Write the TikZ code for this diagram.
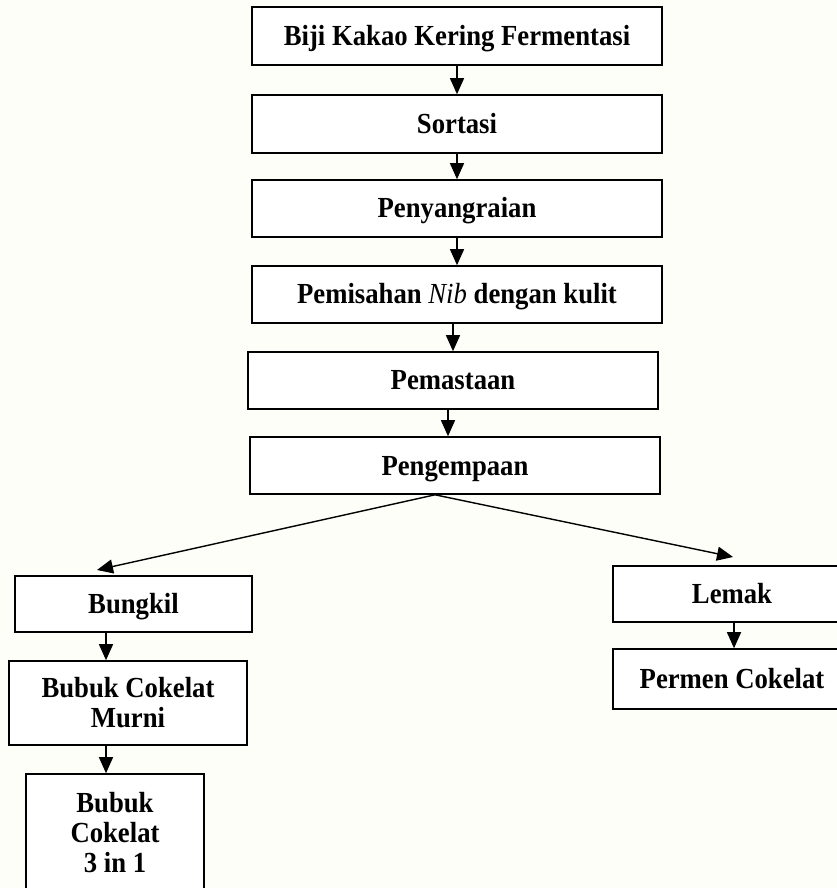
\documentclass[tikz,border=0pt]{standalone}
\usepackage{fontspec}
\setmainfont{Liberation Serif}
\usetikzlibrary{arrows.meta}
\definecolor{paper}{RGB}{254,254,248}
% labels are set slightly taller than wide, a little below centre
\newcommand\steptext[1]{\raisebox{-3.5pt}[\height][\depth]{\scalebox{1}[1.09]{\begin{tabular}{@{}c@{}}#1\end{tabular}}}}
\begin{document}
\begin{tikzpicture}[x=1pt,y=-1pt,
  stepbox/.style={draw=black,line width=1.6pt,fill=white,inner sep=0pt,
    align=center,font=\bfseries\fontsize{26.7}{27.5}\selectfont},
  flow/.style={line width=1.4pt,-{Triangle[width=14pt,length=16pt]}}]
  % page
  \fill[paper] (0,0) rectangle (837,888);
  \useasboundingbox (0,0) rectangle (837,888);

  % main chain
  \node[stepbox,minimum width=410pt,minimum height=58pt] (b1) at (457,36) {\steptext{Biji Kakao Kering Fermentasi}};
  \node[stepbox,minimum width=410pt,minimum height=58pt] (b2) at (457,124) {\steptext{Sortasi}};
  \node[stepbox,minimum width=410pt,minimum height=57pt] (b3) at (457,208.5) {\steptext{Penyangraian}};
  \node[stepbox,minimum width=410pt,minimum height=57pt] (b4) at (457,294.5) {\steptext{Pemisahan \textmd{\textit{Nib}} dengan kulit}};
  \node[stepbox,minimum width=410pt,minimum height=57pt] (b5) at (453,380.5) {\steptext{Pemastaan}};
  \node[stepbox,minimum width=410pt,minimum height=57pt] (b6) at (455,465.5) {\steptext{Pengempaan}};

  % left branch
  \node[stepbox,minimum width=237pt,minimum height=56pt] (bungkil) at (133.5,604) {\steptext{Bungkil}};
  \node[stepbox,minimum width=238pt,minimum height=84pt] (murni) at (128,703) {\steptext{Bubuk Cokelat\\Murni}};
  \node[stepbox,minimum width=178pt,minimum height=118pt] (tiga) at (115,833) {\steptext{Bubuk\\Cokelat\\3 in 1}};

  % right branch
  \node[stepbox,minimum width=238pt,minimum height=56pt] (lemak) at (732,594) {\steptext{Lemak}};
  \node[stepbox,minimum width=238pt,minimum height=60pt] (permen) at (732,679) {\steptext{Permen Cokelat}};

  % connectors
  \draw[flow] (b1.south) -- (b2.north);
  \draw[flow] (b2.south) -- (b3.north);
  \draw[flow] (b3.south) -- (b4.north);
  \draw[flow] (b4.south -| b5.north) -- (b5.north);
  \draw[flow] ([xshift=-5pt]b5.south) -- ([xshift=-5pt]b5.south |- b6.north);

  \coordinate (split) at ([xshift=-20pt]b6.south);
  \coordinate (lefttip) at (97,570);
  \coordinate (righttip) at (733,557);
  \draw[flow] (split) -- (lefttip);
  \draw[flow] (split) -- (righttip);

  \coordinate (lx) at (106,0);
  \draw[flow] (bungkil.south -| lx) -- (murni.north -| lx);
  \draw[flow] (murni.south -| lx) -- (tiga.north -| lx);
  \coordinate (rx) at (734,0);
  \draw[flow] (lemak.south -| rx) -- (permen.north -| rx);
\end{tikzpicture}
\end{document}
